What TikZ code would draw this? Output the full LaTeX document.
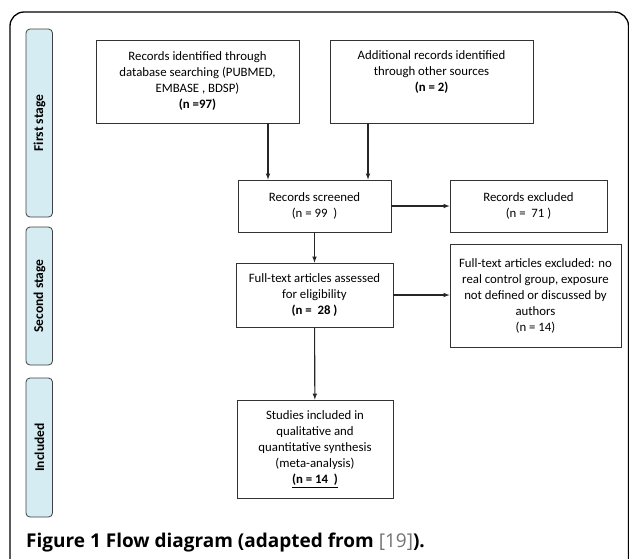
\documentclass[tikz,border=0pt]{standalone}
\usepackage{fontspec}
\setmainfont{Carlito}
\newfontfamily\capfont{Open Sans}
\definecolor{stageblue}{RGB}{214,236,243}
\begin{document}
\begin{tikzpicture}[>=latex, x=1pt, y=-1pt,
    box/.style={draw=black!80, line width=.8pt, align=center, inner sep=0pt,
        font=\fontsize{12.8}{16}\selectfont},
    stagebar/.style={draw=black!75, line width=.8pt, fill=stageblue, rounded corners=4pt},
    stagetxt/.style={rotate=90, font=\fontsize{13.5}{15}\selectfont\bfseries}]
\useasboundingbox (0,0) rectangle (629,558);
\clip (0,0) rectangle (629,558);
\draw[line width=1.3pt, rounded corners=14pt] (10,12) rectangle (628.5,620);

% stages
\foreach \ya/\yb/\t [count=\i] in {29/217/First stage, 227/365/Second stage, 378/517/Included}
{
    \draw[stagebar] (26,\ya) rectangle (52.5,\yb);
    \node[stagetxt] (stage\i) at (39.5,{(\ya+\yb)/2}) {\t};
}

% boxes
\node[box, minimum width=203, minimum height=83] (id) at (197.5,81.5)
    {Records identified through\\database searching (PUBMED,\\EMBASE , BDSP)\\\textbf{(n =97)}};
\node[box, minimum width=203, minimum height=83] (add) at (431.5,81.5) {};
\node[box, draw=none, anchor=north] (addtxt) at ([yshift=-11pt]add.north)
    {Additional records identified\\through other sources\\\textbf{(n = 2)}};
\node[box, minimum width=153, minimum height=52] (scr) at (314.5,206)
    {Records screened\\(n = 99~~)};
\node[box, minimum width=157, minimum height=52] (exc) at (528.5,206)
    {Records excluded\\(n =~~71 )};
\node[box, minimum width=157, minimum height=64] (ft) at (314.5,295)
    {Full-text articles assessed\\for eligibility\\\textbf{(n =~~28 )}};
\node[box, minimum width=171, minimum height=103] (ex2) at (535.5,295.5)
    {Full-text articles excluded: no\\real control group, exposure\\not defined or discussed by\\authors\\(n = 14)};
\node[box, minimum width=156, minimum height=98] (inc) at (315,449)
    {Studies included in\\qualitative and\\quantitative synthesis\\(meta-analysis)\\\underline{\textbf{(n = 14~~)}}};

% arrows
\begin{scope}[line width=1.1pt, black!85]
\draw[->] (268,0 |- id.south) -- (268,0 |- scr.north);
\draw[->] (368,0 |- add.south) -- (368,0 |- scr.north);
\draw[->] (scr.east) -- (exc.west);
\draw[->] (scr) -- (ft);
\draw[->] (ft.east) -- (ft.east -| ex2.west);
\draw[->] (ft) -- (inc);
\end{scope}

\node[anchor=base west, inner sep=0pt, font=\capfont\fontsize{19}{22}\selectfont] (cap) at (26,547)
    {\textbf{Figure 1 Flow diagram (adapted from }{\color{black!55}[19]}\textbf{).}};
\end{tikzpicture}
\end{document}
